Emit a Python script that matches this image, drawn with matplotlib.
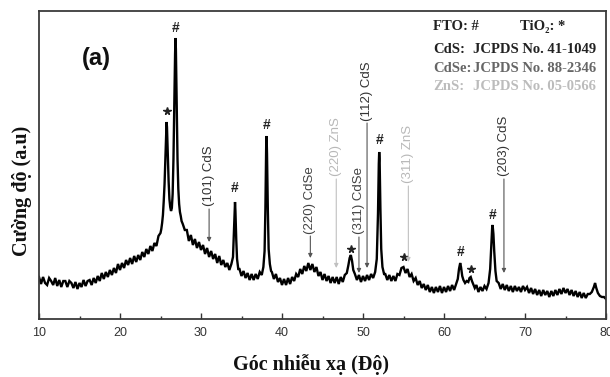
import matplotlib
matplotlib.use("Agg")
import matplotlib.pyplot as plt
from matplotlib.ticker import MultipleLocator

# ---------------- data ----------------
two_theta = [
    10.0, 10.25, 10.5, 10.75, 11.0, 11.25, 11.5, 11.75, 12.0, 12.25, 12.5, 12.75,
    13.0, 13.25, 13.5, 13.75, 14.0, 14.25, 14.5, 14.75, 15.0, 15.25, 15.5, 15.75,
    16.0, 16.25, 16.5, 16.75, 17.0, 17.25, 17.5, 17.75, 18.0, 18.25, 18.5, 18.75,
    19.0, 19.25, 19.5, 19.75, 20.0, 20.25, 20.5, 20.75, 21.0, 21.25, 21.5, 21.75,
    22.0, 22.25, 22.5, 22.75, 23.0, 23.25, 23.5, 23.75, 24.0, 24.25, 24.5, 24.75,
    25.0, 25.1, 25.2, 25.3, 25.4, 25.5, 25.6, 25.7, 25.75, 25.8, 25.9, 26.0,
    26.1, 26.2, 26.3, 26.4, 26.5, 26.6, 26.7, 26.8, 26.85, 26.9, 27.0, 27.1,
    27.2, 27.3, 27.4, 27.5, 27.6, 27.75, 28.0,
    28.25, 28.5, 28.75, 29.0, 29.25, 29.5, 29.75, 30.0, 30.25, 30.5, 30.75, 31.0,
    31.25, 31.5, 31.75, 32.0, 32.25, 32.5, 32.75, 33.0, 33.25, 33.5, 33.75,
    33.95, 34.05, 34.15, 34.2, 34.25, 34.35, 34.45, 34.6,
    34.75, 35.0, 35.25, 35.5, 35.75, 36.0, 36.25, 36.5, 36.75, 37.0, 37.25, 37.5,
    37.7, 37.85, 37.95, 38.05, 38.1, 38.15, 38.25, 38.35, 38.5, 38.65,
    38.75, 39.0, 39.25, 39.5, 39.75, 40.0, 40.25, 40.5, 40.75, 41.0, 41.25, 41.5,
    41.75, 42.0, 42.25, 42.5, 42.75, 43.0, 43.25, 43.5, 43.75, 44.0, 44.25, 44.5,
    44.75, 45.0, 45.25, 45.5, 45.75, 46.0, 46.25, 46.5, 46.75, 47.0, 47.25, 47.5,
    47.75, 48.0, 48.2, 48.35, 48.5, 48.65, 48.8, 49.0, 49.25, 49.5, 49.75, 50.0,
    50.25, 50.5, 50.75, 51.0, 51.25, 51.5, 51.7, 51.85, 51.95, 52.0, 52.05, 52.15,
    52.25, 52.4, 52.6, 52.75, 53.0, 53.25, 53.5, 53.75, 54.0, 54.25, 54.5, 54.75,
    55.0, 55.25, 55.5, 55.75, 56.0, 56.25, 56.5, 56.75, 57.0, 57.25, 57.5, 57.75,
    58.0, 58.25, 58.5, 58.75, 59.0, 59.25, 59.5, 59.75, 60.0, 60.25, 60.5, 60.75,
    61.0, 61.25, 61.5, 61.7, 61.85, 62.0, 62.1, 62.25, 62.4, 62.6, 62.8, 63.0,
    63.15, 63.3, 63.45, 63.6, 63.8, 64.0, 64.25, 64.5, 64.75, 65.0, 65.25, 65.5,
    65.7, 65.85, 65.95, 66.0, 66.1, 66.2, 66.35, 66.5, 66.75, 67.0, 67.25, 67.5,
    67.75, 68.0, 68.25, 68.5, 68.75, 69.0, 69.25, 69.5, 69.75, 70.0, 70.25, 70.5,
    70.75, 71.0, 71.25, 71.5, 71.75, 72.0, 72.25, 72.5, 72.75, 73.0, 73.25, 73.5,
    73.75, 74.0, 74.25, 74.5, 74.75, 75.0, 75.25, 75.5, 75.75, 76.0, 76.25, 76.5,
    76.75, 77.0, 77.25, 77.5, 77.75, 78.0, 78.25, 78.5, 78.65, 78.8, 79.0, 79.25,
    79.5, 79.75, 80.0,
]
intensity = [
    42, 35, 42, 36, 34, 41, 38, 34, 41, 33, 39, 32,
    38, 38, 32, 38, 36, 31, 37, 30, 36, 32, 39, 33,
    38, 39, 34, 41, 36, 43, 38, 46, 40, 47, 42, 49,
    44, 51, 46, 55, 49, 56, 51, 59, 54, 61, 55, 63,
    57, 64, 59, 67, 62, 70, 65, 73, 68, 76, 73, 83,
    86, 90, 96, 104, 118, 135, 160, 185, 197, 192, 165, 138,
    120, 112, 108, 111, 125, 160, 215, 265, 281, 270, 215, 160,
    130, 115, 107, 103, 98, 95, 89,
    89, 78, 84, 74, 80, 71, 77, 69, 74, 65, 71, 62,
    68, 60, 65, 56, 63, 54, 59, 52, 56, 49, 55,
    62, 85, 110, 117, 108, 80, 60, 50,
    50, 43, 48, 41, 46, 39, 45, 39, 45, 40, 47, 44,
    52, 68, 110, 175, 183, 165, 110, 70, 55, 48,
    47, 40, 45, 37, 41, 34, 40, 34, 41, 35, 42, 38,
    45, 42, 50, 45, 53, 48, 56, 49, 55, 47, 52, 43,
    47, 39, 45, 38, 43, 36, 42, 36, 42, 35, 42, 37,
    44, 46, 54, 61, 64, 58, 49, 45, 39, 44, 37, 43,
    38, 44, 39, 45, 41, 47, 60, 105, 155, 167, 160, 110,
    70, 52, 45, 45, 39, 44, 38, 43, 38, 45, 44, 51,
    52, 46, 50, 42, 45, 38, 41, 34, 38, 31, 35, 29,
    34, 27, 32, 26, 32, 27, 33, 26, 32, 27, 33, 28,
    34, 29, 35, 40, 50, 56, 52, 43, 39, 36, 38, 37,
    41, 42, 38, 35, 31, 34, 27, 32, 28, 33, 30, 36,
    50, 75, 92, 94, 85, 68, 48, 38, 36, 30, 35, 29,
    34, 28, 33, 27, 33, 28, 32, 27, 33, 29, 32, 26,
    31, 25, 30, 24, 29, 23, 29, 24, 28, 22, 28, 23,
    29, 24, 30, 25, 31, 26, 30, 24, 29, 23, 28, 22,
    27, 21, 26, 21, 25, 25, 27, 32, 36, 31, 26, 23,
    22, 22, 20,
]

# peak symbols: FTO (#) and TiO2 (*)
fto_pos = [26.9, 34.2, 38.1, 52.0, 62.0, 66.0]
fto_lab = [291, 131, 194, 179, 67, 104]
tio2_pos = [25.8, 48.5, 55.0, 63.3]
tio2_lab = [208, 70, 62, 50]

# reflection labels: text, position, text bottom, arrow tail, arrow head, phase
refl_text = ["(101) CdS", "(220) CdSe", "(220) ZnS", "(311) CdSe",
             "(112) CdS", "(311) ZnS", "(203) CdS"]
refl_pos = [31.0, 43.5, 46.7, 49.5, 50.5, 55.6, 67.4]
refl_text_bottom = [113, 85, 143, 85, 198, 136, 143]
refl_tail = [110, 83, 140, 82, 196, 133, 140]
refl_head = [77, 61, 51, 46, 51, 57, 46]
refl_phase = ["CdS", "CdSe", "ZnS", "CdSe", "CdS", "ZnS", "CdS"]

x_ticks = [10, 20, 30, 40, 50, 60, 70, 80]

phase_color = {"CdS": "#333333", "CdSe": "#444444", "ZnS": "#b8b8b8"}
arrow_color = {"CdS": "#555555", "CdSe": "#555555", "ZnS": "#c0c0c0"}

# ---------------- figure ----------------
W, H = 610, 377
fig = plt.figure(figsize=(W / 100, H / 100), dpi=100)
ax = fig.add_axes([39 / W, (H - 319) / H, 567 / W, 308 / H])

ax.plot(two_theta, intensity, color="black", lw=1.7, solid_joinstyle="miter")

ax.set_xlim(10, 80)
ax.set_ylim(0, 308)
ax.set_xticks(x_ticks)
ax.set_xticklabels([str(t) for t in x_ticks])
ax.xaxis.set_minor_locator(MultipleLocator(5))
ax.set_yticks([])
ax.tick_params(axis="x", which="major", direction="in", length=4.5, width=1.0,
               color="#333333", pad=5.5, labelsize=9, labelcolor="#333333")
ax.tick_params(axis="x", which="minor", direction="in", length=2.5, width=1.0,
               color="#333333")
ax.tick_params(top=False, right=False)
for lab in ax.get_xticklabels():
    lab.set_family("Liberation Sans")
for sp in ax.spines.values():
    sp.set_color("#3a3a3a")
    sp.set_linewidth(1.3)

# FTO (#) marks
for p, h in zip(fto_pos, fto_lab):
    ax.text(p, h, "#", ha="center", va="center", fontsize=10, fontweight="bold",
            family="Liberation Sans", color="#222222")
# TiO2 (*) marks
ax.plot(tio2_pos, tio2_lab, linestyle="none", marker="*", ms=5.5, color="#222222")

# reflection labels with arrows
for t, p, tb, ta, hd, ph in zip(refl_text, refl_pos, refl_text_bottom, refl_tail,
                                refl_head, refl_phase):
    ax.text(p, tb, t, rotation=90, ha="center", va="bottom", fontsize=9.5,
            family="Liberation Sans", color=phase_color[ph])
    ax.annotate("", xy=(p, hd), xytext=(p, ta),
                arrowprops=dict(arrowstyle="-|>", lw=0.8, color=arrow_color[ph],
                                mutation_scale=6, shrinkA=0, shrinkB=0))

# legend block (top right)
serif = ["Liberation Serif", "DejaVu Serif"]
ax.text(0.695, 0.938, "FTO: #", transform=ax.transAxes, ha="left", va="baseline",
        fontsize=10.5, fontweight="bold", family=serif, color="#222222")
ax.text(0.848, 0.938, "TiO\u2082: *", transform=ax.transAxes, ha="left", va="baseline",
        fontsize=10.5, fontweight="bold", family=serif, color="#222222")
leg_names = ["CdS:", "CdSe:", "ZnS:"]
leg_refs = ["JCPDS No. 41-1049", "JCPDS No. 88-2346", "JCPDS No. 05-0566"]
leg_cols = ["#222222", "#666666", "#bcbcbc"]
leg_y = [0.864, 0.802, 0.744]
for n, r, c, y in zip(leg_names, leg_refs, leg_cols, leg_y):
    ax.text(0.695, y, n, transform=ax.transAxes, ha="left", va="baseline",
            fontsize=10.5, fontweight="bold", family=serif, color=c)
    ax.text(0.765, y, r, transform=ax.transAxes, ha="left", va="baseline",
            fontsize=10.5, fontweight="bold", family=serif, color=c)

ax.text(0.076, 0.847, "(a)", transform=ax.transAxes, ha="left", va="center",
        fontsize=17, fontweight="bold", family="Liberation Sans", color="#111111")

fig.text(311 / W, 1 - 365 / H, "Góc nhiễu xạ (Độ)", ha="center", va="center",
         fontsize=14.5, fontweight="bold", family=serif, color="#111111")
fig.text(22 / W, 1 - 191 / H, "Cường độ (a.u)", ha="center", va="center",
         rotation=90, fontsize=14.5, fontweight="bold", family=serif, color="#111111")

fig.savefig("out.png", dpi=100)
